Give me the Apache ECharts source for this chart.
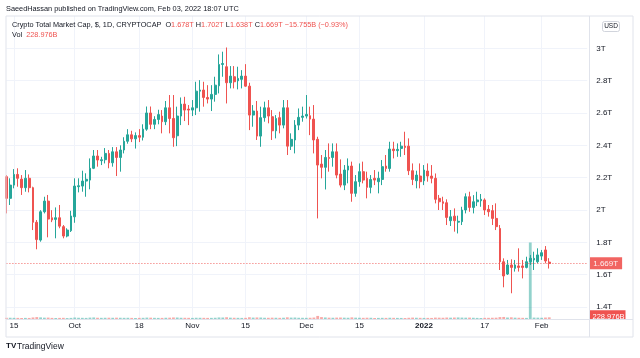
<!DOCTYPE html>
<html><head><meta charset="utf-8">
<script src="https://cdn.jsdelivr.net/npm/echarts@6/dist/echarts.min.js"></script>
<style>html,body{margin:0;padding:0;background:#fff;}#c{width:640px;height:358px;}</style>
</head><body><div id="c"></div>
<script>
// ---- data (values in trillions USD, volume in billions USD) ----
const firstDay = '2021-09-13';
const dayCount = 144;
const rightPadDays = 10;

const openT = [
2.206,2.072,2.154,2.220,2.191,2.138,2.196,2.138,1.924,1.814,
1.989,2.055,1.952,1.942,1.952,1.897,1.839,1.872,1.958,2.144,
2.148,2.179,2.185,2.258,2.334,2.305,2.311,2.350,2.292,2.360,
2.325,2.371,2.425,2.465,2.440,2.460,2.450,2.500,2.600,2.530,
2.560,2.581,2.546,2.632,2.566,2.459,2.581,2.655,2.624,2.618,
2.632,2.735,2.742,2.696,2.686,2.715,2.768,2.900,2.886,2.787,
2.824,2.799,2.808,2.828,2.766,2.587,2.612,2.457,2.571,2.632,
2.577,2.490,2.571,2.525,2.632,2.395,2.433,2.525,2.573,2.581,
2.583,2.562,2.437,2.284,2.264,2.325,2.325,2.360,2.222,2.154,
2.247,2.272,2.103,2.175,2.237,2.196,2.140,2.196,2.175,2.189,
2.272,2.257,2.377,2.367,2.381,2.395,2.395,2.243,2.181,2.210,
2.181,2.241,2.210,2.196,2.072,2.051,2.045,1.934,1.962,1.925,
1.928,2.000,2.082,2.016,2.051,2.057,2.062,2.004,1.996,1.948,
1.886,1.680,1.604,1.660,1.639,1.654,1.654,1.645,1.680,1.691,
1.680,1.715,1.753,1.678];
const highT = [
2.216,2.196,2.253,2.258,2.216,2.247,2.220,2.144,1.938,1.999,
2.082,2.093,1.999,2.016,2.031,1.907,1.887,1.995,2.196,2.196,
2.243,2.227,2.319,2.371,2.371,2.329,2.383,2.371,2.389,2.389,
2.400,2.450,2.500,2.490,2.480,2.500,2.530,2.640,2.640,2.580,
2.620,2.618,2.674,2.711,2.711,2.639,2.696,2.700,2.649,2.680,
2.793,2.803,2.793,2.772,2.772,2.824,2.962,2.979,3.005,2.890,
2.890,2.886,2.865,2.902,2.787,2.649,2.674,2.639,2.670,2.680,
2.618,2.587,2.608,2.680,2.680,2.474,2.556,2.628,2.639,2.711,
2.639,2.649,2.453,2.340,2.371,2.412,2.412,2.412,2.313,2.278,
2.319,2.299,2.216,2.288,2.299,2.237,2.216,2.247,2.237,2.309,
2.340,2.422,2.422,2.412,2.422,2.484,2.443,2.288,2.243,2.288,
2.278,2.288,2.278,2.226,2.093,2.082,2.066,2.000,2.010,1.965,
2.020,2.103,2.113,2.092,2.113,2.099,2.072,2.031,2.031,2.041,
1.907,1.701,1.691,1.695,1.691,1.763,1.691,1.711,1.722,1.742,
1.763,1.753,1.777,1.702];
const lowT = [
1.979,2.031,2.134,2.144,2.093,2.113,2.109,1.876,1.757,1.804,
1.979,1.831,1.925,1.825,1.887,1.825,1.831,1.864,1.921,2.109,
2.113,2.082,2.128,2.253,2.268,2.278,2.288,2.258,2.268,2.210,
2.237,2.350,2.410,2.420,2.380,2.420,2.430,2.490,2.500,2.500,
2.530,2.474,2.525,2.474,2.391,2.395,2.525,2.550,2.525,2.581,
2.587,2.608,2.639,2.659,2.612,2.670,2.721,2.824,2.659,2.752,
2.752,2.746,2.752,2.762,2.494,2.515,2.433,2.391,2.546,2.536,
2.433,2.443,2.474,2.505,2.340,2.371,2.350,2.494,2.546,2.566,
2.463,2.350,1.948,2.196,2.127,2.237,2.268,2.196,2.140,2.123,
2.165,2.051,2.082,2.144,2.165,2.072,2.103,2.154,2.103,2.154,
2.237,2.237,2.319,2.329,2.329,2.340,2.216,2.154,2.134,2.134,
2.154,2.175,2.165,2.041,2.000,2.000,1.907,1.901,1.866,1.855,
1.907,1.979,1.989,1.979,2.024,2.020,1.969,1.959,1.907,1.876,
1.629,1.522,1.598,1.485,1.619,1.619,1.577,1.639,1.660,1.629,
1.670,1.691,1.670,1.638];
const closeT = [
2.072,2.154,2.220,2.196,2.138,2.196,2.138,1.924,1.817,1.989,
2.055,1.944,1.938,1.952,1.900,1.839,1.876,1.963,2.148,2.150,
2.179,2.190,2.258,2.334,2.309,2.311,2.350,2.292,2.360,2.325,
2.371,2.425,2.465,2.440,2.460,2.450,2.500,2.600,2.530,2.560,
2.590,2.546,2.632,2.566,2.447,2.581,2.655,2.618,2.618,2.632,
2.735,2.742,2.696,2.686,2.715,2.772,2.900,2.906,2.787,2.828,
2.793,2.814,2.828,2.766,2.587,2.612,2.457,2.571,2.632,2.581,
2.490,2.566,2.525,2.632,2.395,2.437,2.525,2.573,2.581,2.591,
2.562,2.433,2.278,2.264,2.325,2.319,2.360,2.216,2.154,2.247,
2.272,2.103,2.175,2.237,2.185,2.140,2.189,2.185,2.196,2.268,
2.257,2.377,2.367,2.375,2.395,2.387,2.243,2.189,2.216,2.175,
2.247,2.210,2.196,2.066,2.051,2.041,1.954,1.958,1.934,1.930,
2.000,2.082,2.016,2.051,2.062,2.066,2.000,1.989,1.948,1.897,
1.680,1.592,1.660,1.645,1.660,1.645,1.645,1.680,1.701,1.701,
1.722,1.736,1.684755,1.669];
const volumeB = [
165,170,160,150,140,150,145,210,260,220,
180,190,150,140,150,160,130,150,200,170,
160,150,190,210,170,160,170,175,165,180,
170,160,165,150,140,155,160,190,180,160,
150,150,170,180,210,200,170,165,160,150,
170,165,160,150,155,170,210,200,240,180,
170,160,150,160,240,190,210,200,170,165,
180,170,160,175,230,190,200,170,165,160,
170,200,420,260,210,180,170,190,200,180,
170,220,180,170,160,175,165,140,150,160,
150,170,160,150,145,140,165,190,170,160,
150,150,145,190,180,170,200,180,200,210,
190,180,190,170,150,140,160,160,170,180,
260,280,200,230,180,170,160,150,10500,190,
180,170,200,228.976];

const tickDates = ['2021-09-15','2021-10-01','2021-10-18','2021-11-01','2021-11-15','2021-12-01','2021-12-15','2022-01-01','2022-01-17','2022-02-01'];
const tickTexts = ['15','Oct','18','Nov','15','Dec','15','2022','17','Feb'];
const priceTicks = [1.4,1.6,1.8,2.0,2.2,2.4,2.6,2.8,3.0];

// ---- build ----
const categories = [];
{
  const p = firstDay.split('-').map(Number);
  for (let i = 0; i < dayCount + rightPadDays; i++) {
    const d = new Date(Date.UTC(p[0], p[1]-1, p[2] + i));
    categories.push(d.toISOString().slice(0,10));
  }
}
const tickMap = {};
tickDates.forEach((d,i)=>{ tickMap[d] = tickTexts[i]; });
const UP = '#26a69a', DOWN = '#ef5350';
const FONT = 'Liberation Sans, Arial, sans-serif';
const candleData = openT.map((o,i)=>[o, closeT[i], lowT[i], highT[i]]);
const volData = volumeB.map((v,i)=>({value:v, itemStyle:{color: closeT[i] >= openT[i] ? 'rgba(38,166,154,0.5)' : 'rgba(239,83,80,0.5)'}}));
const last = dayCount - 1;
const lastClose = closeT[last];

const gridLeft = 6.41, gridWidth = 580.8;
const priceTop = 15.96, priceHeight = 323.4;
const volTop = 15.96, volHeight = 303.04, volBarSpan = 76.5;

const chart = echarts.init(document.getElementById('c'), null, {renderer:'canvas'});
const fmtT = v => v.toFixed(3) + 'T';
const option = {
  animation: false,
  backgroundColor: '#ffffff',
  textStyle: {fontFamily: FONT},
  grid: [
    {left: gridLeft, width: gridWidth, top: priceTop, height: priceHeight, containLabel:false},
    {left: gridLeft, width: gridWidth, top: volTop, height: volHeight, containLabel:false}
  ],
  xAxis: [
    {type:'category', gridIndex:0, data: categories, boundaryGap:false,
     axisLine:{show:false}, axisTick:{show:false}, axisLabel:{show:false}, splitLine:{show:false}},
    {type:'category', gridIndex:1, data: categories, boundaryGap:false,
     axisLine:{show:false}, axisTick:{show:false},
     axisLabel:{show:true, interval:(idx,val)=>tickMap[val]!==undefined,
       formatter:(val)=>{ const t = tickMap[val]||''; return /^\d{4}$/.test(t) ? '{y|' + t + '}' : t; },
       fontSize:8, color:'#131722', margin:3, fontFamily:FONT,
       rich:{y:{fontSize:8, fontWeight:'bold', color:'#131722', fontFamily:FONT}}},
     splitLine:{show:true, interval:(idx,val)=>tickMap[val]!==undefined, lineStyle:{color:'#f0f3fa', width:1}}}
  ],
  yAxis: [
    {type:'value', gridIndex:0, position:'right', min:1.2, max:3.2, interval:0.2,
     axisLine:{show:false}, axisTick:{show:false},
     axisLabel:{show:true, margin:9, fontSize:8, color:'#131722', fontFamily:FONT,
       formatter:(v)=>{ const r = Math.round(v*10)/10; return priceTicks.some(t=>Math.abs(t-r)<1e-6) ? (r + 'T') : ''; }},
     splitLine:{show:true, showMinLine:false, showMaxLine:false, lineStyle:{color:'#f0f3fa', width:1}}},
    {type:'value', gridIndex:1, min:0, max:(e)=>e.max*volHeight/volBarSpan, show:false, splitLine:{show:false}}
  ],
  series: [
    {type:'bar', xAxisIndex:1, yAxisIndex:1, data: volData, barWidth:2.8, z:1},
    {type:'candlestick', xAxisIndex:0, yAxisIndex:0, data: candleData, barWidth:2.3, z:3,
     itemStyle:{color:UP, color0:DOWN, borderColor:UP, borderColor0:DOWN, borderWidth:1},
     markLine:{silent:true, symbol:['none','none'], animation:false,
       lineStyle:{color:DOWN, type:[1,2], width:1, opacity:0.9},
       label:{show:true, position:'end', distance:2, formatter:()=>fmtT(lastClose),
         backgroundColor:DOWN, color:'#fff', fontSize:8, padding:[2,4,2,4], fontFamily:FONT},
       data:[{yAxis:lastClose}]}}
  ]
};
chart.setOption(option);

// header / frame graphics
const o = openT[last], h = highT[last], l = lowT[last], c = closeT[last];
const chg = (c - closeT[last-1]) * 1000;
const line2 = '{n|Crypto Total Market Cap, $, 1D, CRYPTOCAP  O}{r|' + fmtT(o) + '}{n| H}{r|' + fmtT(h) +
  '}{n| L}{r|' + fmtT(l) + '}{n| C}{r|' + fmtT(c) + '}{r| \u2212' + Math.abs(chg).toFixed(3) + 'B (\u22120.93%)}';
const rich = {n:{fill:'#131722', fontSize:7.3, fontFamily:FONT}, r:{fill:DOWN, fontSize:7.3, fontFamily:FONT}};
const volY = chart.convertToPixel({yAxisIndex:1}, volumeB[last]);
const lineC = '#e0e3eb';
chart.setOption({graphic:[
  {type:'text', left:6, top:5.5, z:20, style:{text:'SaeedHassan published on TradingView.com, Feb 03, 2022 18:07 UTC', fill:'#131722', fontSize:7.35, fontFamily:FONT}},
  {type:'text', left:12, top:21.5, z:20, style:{text:line2, rich:rich}},
  {type:'text', left:12, top:31.5, z:20, style:{text:'{n|Vol}{r|  ' + volumeB[last].toFixed(3) + 'B}', rich:rich}},
  {type:'group', z:10, children:[
    {type:'rect', shape:{x:589.5, y:volY-7, width:36, height:14}, style:{fill:DOWN}},
    {type:'text', x:592.5, y:volY, style:{text:volumeB[last].toFixed(3)+'B', fill:'#fff', fontSize:7.5, fontFamily:FONT, textVerticalAlign:'middle'}}
  ]},
  {type:'rect', z:11, shape:{x:590, y:320, width:42.5, height:16.5}, style:{fill:'#fff'}},
  {type:'rect', z:12, shape:{x:6, y:16, width:627, height:321}, style:{fill:'none', stroke:lineC, lineWidth:1}},
  {type:'line', z:12, shape:{x1:589.5, y1:16, x2:589.5, y2:337}, style:{stroke:lineC, lineWidth:1}},
  {type:'line', z:12, shape:{x1:6, y1:319.5, x2:633, y2:319.5}, style:{stroke:lineC, lineWidth:1}},
  {type:'rect', z:12, shape:{x:602.5, y:21.5, width:17, height:10, r:2}, style:{fill:'#fff', stroke:'#d1d4dc', lineWidth:1}},
  {type:'text', z:13, x:611, y:26.7, style:{text:'USD', fill:'#131722', fontSize:6.5, fontFamily:FONT, textAlign:'center', textVerticalAlign:'middle'}},
  {type:'text', z:13, left:6, top:342, style:{text:'TV', fill:'#131722', fontSize:8, fontWeight:'bold', fontFamily:FONT}},
  {type:'text', z:13, left:17, top:342, style:{text:'TradingView', fill:'#131722', fontSize:8.5, fontFamily:FONT}}
]});
</script></body></html>
